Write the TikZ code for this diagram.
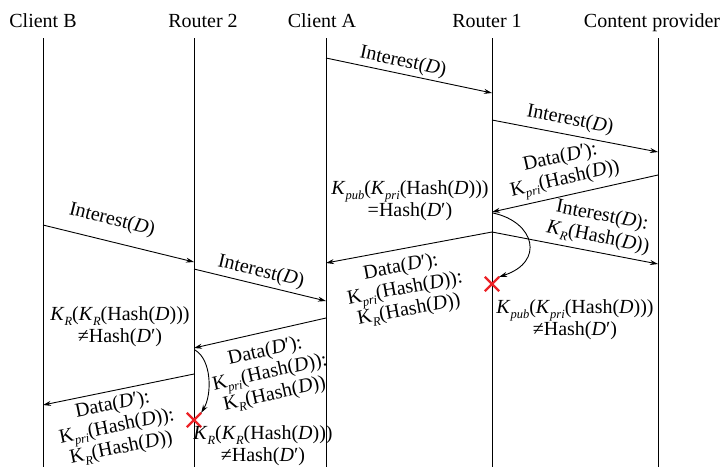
\documentclass[tikz,border=0pt]{standalone}
\usepackage{fontspec}
\setmainfont{Liberation Serif}
\usetikzlibrary{arrows.meta,shapes.misc}
\definecolor{xred}{RGB}{236,34,39}
\newcommand\sbs[1]{\raisebox{-0.22em}{\fontsize{12.5}{13}\selectfont\textit{#1}}}
\newcommand\vD{\textit{D}}
\newcommand\vDp{\textit{D}′}
\newcommand\mKpub{\textit{K}\sbs{pub}}
\newcommand\mKpri{\textit{K}\sbs{pri}}
\newcommand\uKpri{K\sbs{pri}}
\newcommand\mKR{\textit{K}\sbs{R}}
\newcommand\uKR{K\sbs{R}}
\begin{document}
\begin{tikzpicture}[x=1pt,y=-1pt,
  life/.style={line width=1pt},
  msg/.style={line width=0.9pt,-{Stealth[length=8pt,width=5pt]}},
  hdr/.style={anchor=base,inner sep=0pt,font=\fontsize{20}{22}\selectfont},
  lbl/.style={inner sep=0pt,align=center,font=\fontsize{20}{22}\selectfont},
  xmark/.style={draw=xred,cross out,line width=2.4pt,minimum size=12pt,inner sep=0pt}]
\useasboundingbox (0,0) rectangle (723,467);
% headers
\node[hdr] (hB) at (43,27) {Client B};
\node[hdr] (hR2) at (203,27) {Router 2};
\node[hdr] (hA) at (322,27) {Client A};
\node[hdr] (hR1) at (487,27) {Router 1};
\node[hdr] (hCP) at (652,27) {Content provider};
% lifelines
\coordinate (tB) at (43,38);  \coordinate (bB) at (43,467);
\coordinate (tR2) at (194,38); \coordinate (bR2) at (194,467);
\coordinate (tA) at (326,38); \coordinate (bA) at (326,467);
\coordinate (tR1) at (492,38); \coordinate (bR1) at (492,467);
\coordinate (tCP) at (658,38); \coordinate (bCP) at (658,467);
\draw[life] (tB) -- (bB);
\draw[life] (tR2) -- (bR2);
\draw[life] (tA) -- (bA);
\draw[life] (tR1) -- (bR1);
\draw[life] (tCP) -- (bCP);
% message end points
\coordinate (a1s) at (326,58);  \coordinate (a1e) at (492,93);
\coordinate (a2s) at (492,120); \coordinate (a2e) at (658,152);
\coordinate (a3s) at (658,175); \coordinate (a3e) at (492,212);
\coordinate (a4s) at (492,232); \coordinate (a4e) at (658,264);
\coordinate (a5e) at (326,263);
\coordinate (a9s) at (43,225);  \coordinate (a9e) at (194,262);
\coordinate (a10s) at (194,269); \coordinate (a10e) at (326,301);
\coordinate (a11s) at (326,318); \coordinate (a11e) at (194,348);
\coordinate (a12s) at (194,374); \coordinate (a12e) at (43,405);
\coordinate (c1s) at (493,213);
\coordinate (c2s) at (195,350);
% crosses
\node[xmark] (x1) at (492,284) {};
\node[xmark] (x2) at (194,420) {};
% messages
\draw[msg] (a1s) -- (a1e);
\draw[msg] (a2s) -- (a2e);
\draw[msg] (a3s) -- (a3e);
\draw[msg] (a4s) -- (a4e);
\draw[msg] (a4s) -- (a5e);
\draw[msg] (a9s) -- (a9e);
\draw[msg] (a10s) -- (a10e);
\draw[msg] (a11s) -- (a11e);
\draw[msg] (a12s) -- (a12e);
\draw[msg] (c1s) .. controls (535,222) and (545,262) .. (x1.north east);
\draw[msg] (c2s) .. controls (212,360) and (212,395) .. (x2.north east);
% labels
\node[lbl,rotate=-12] (l1) at (403,62) {Interest(\vD)};
\node[lbl,rotate=-11] (l2) at (570,120) {Interest(\vD)};
\node[lbl,rotate=12.6] (l3) at (563,170) {Data(\vDp):\\\uKpri(Hash(\vD))};
\node[lbl,rotate=-11] (l4) at (600,227) {Interest(\vD):\\\mKR(Hash(\vD))};
\node[lbl,rotate=10.7] (l5) at (405,289) {Data(\vDp):\\\uKpri(Hash(\vD)):\\\uKR(Hash(\vD))};
\node[lbl,rotate=-13.9] (l9) at (112,220) {Interest(\vD)};
\node[lbl,rotate=-13.5] (l10) at (261,272) {Interest(\vD)};
\node[lbl,rotate=12.6] (l11) at (270,373) {Data(\vDp):\\\uKpri(Hash(\vD)):\\\uKR(Hash(\vD))};
\node[lbl,rotate=11.5] (l12) at (117,427) {Data(\vDp):\\\uKpri(Hash(\vD)):\\\uKR(Hash(\vD))};
% statements
\node[lbl] (s1) at (410,201) {\mKpub(\mKpri(Hash(\vD)))\\=Hash(\vDp)};
\node[lbl] (s2) at (575,320) {\mKpub(\mKpri(Hash(\vD)))\\≠Hash(\vDp)};
\node[lbl] (s3) at (120,327) {\mKR(\mKR(Hash(\vD)))\\≠Hash(\vDp)};
\node[lbl] (s4) at (263,446) {\mKR(\mKR(Hash(\vD)))\\≠Hash(\vDp)};
\end{tikzpicture}
\end{document}
